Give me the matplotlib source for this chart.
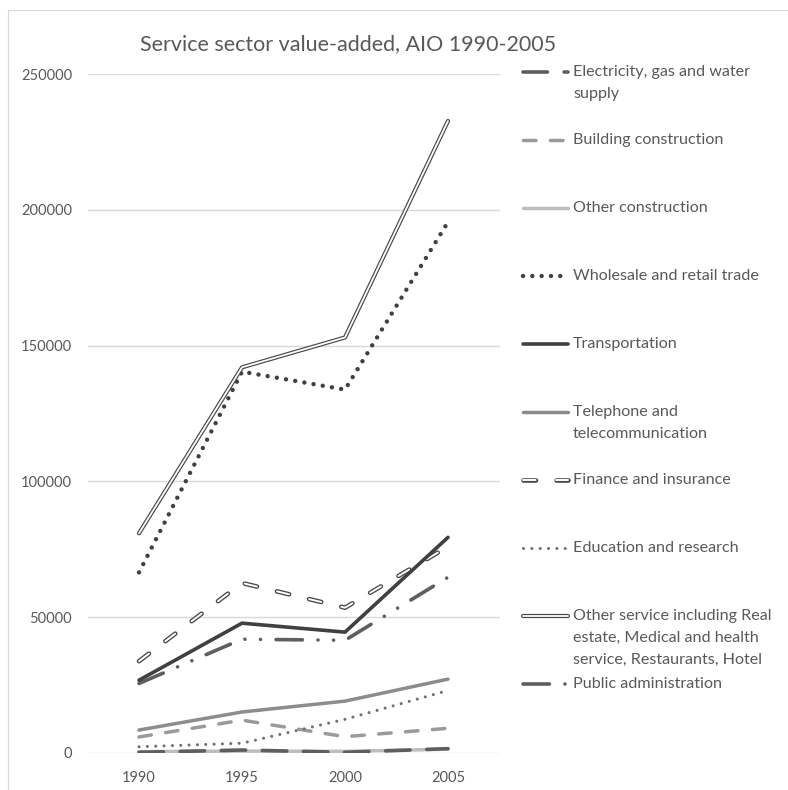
import matplotlib
matplotlib.use("Agg")
import matplotlib.pyplot as plt
from matplotlib.lines import Line2D
from matplotlib.patches import Rectangle
import matplotlib.patheffects as pe

plt.rcParams['font.family'] = ['Lato', 'DejaVu Sans']
plt.rcParams['lines.scale_dashes'] = False

years = ['1990', '1995', '2000', '2005']

electricity = [250, 1100, 250, 1600]
building_construction = [5900, 12100, 6000, 9100]
other_construction = [500, 700, 600, 1400]
wholesale_retail = [66500, 140400, 133800, 195500]
transportation = [26800, 47800, 44500, 79400]
telephone = [8450, 15100, 19100, 27200]
finance_insurance = [33800, 62600, 53500, 76000]
education_research = [2300, 3600, 12400, 23000]
other_service = [80900, 142000, 153000, 232700]
public_admin = [25600, 41900, 41500, 64700]

legend_labels = [
    "Electricity, gas and water\nsupply",
    "Building construction",
    "Other construction",
    "Wholesale and retail trade",
    "Transportation",
    "Telephone and\ntelecommunication",
    "Finance and insurance",
    "Education and research",
    "Other service including Real\nestate, Medical and health\nservice, Restaurants, Hotel",
    "Public administration",
]

W, H = 788, 790
TEXT = '#595959'
GRID = '#d9d9d9'

# line styles: colour, width (pt), dash pattern (pt), cap style, inner core width for double lines, z-order
styles = [
    dict(color='#5e5e5e', lw=2.6, dashes=(0, (17.6, 12.0)), cap='round', inner=None, z=3.2),
    dict(color='#9a9a9a', lw=2.5, dashes=(0, (9.0, 10.4)), cap='round', inner=None, z=3.1),
    dict(color='#bdbdbd', lw=2.5, dashes='-', cap='round', inner=None, z=3.0),
    dict(color='#404040', lw=3.2, dashes=(0, (0.01, 6.7)), cap='round', inner=None, z=3.3),
    dict(color='#404040', lw=2.6, dashes='-', cap='round', inner=None, z=3.4),
    dict(color='#8c8c8c', lw=2.5, dashes='-', cap='round', inner=None, z=3.35),
    dict(color='#474747', lw=3.3, dashes=(0, (9.0, 14.8)), cap='round', inner=1.4, z=3.36),
    dict(color='#6e6e6e', lw=2.2, dashes=(0, (0.01, 6.0)), cap='round', inner=None, z=3.37),
    dict(color='#474747', lw=3.0, dashes='-', cap='round', inner=1.3, z=3.5),
    dict(color='#5e5e5e', lw=2.6, dashes=(0, (19.0, 11.2, 0.01, 11.2, 0.01, 11.2)), cap='round', inner=None, z=3.38),
]

series = [electricity, building_construction, other_construction, wholesale_retail,
          transportation, telephone, finance_insurance, education_research,
          other_service, public_admin]

fig = plt.figure(figsize=(W / 100, H / 100), dpi=100)
fig.patch.set_facecolor('white')

# chart frame
fig.add_artist(Rectangle((8 / W, -0.05), 1.2, 1 - 10 / H + 0.05, transform=fig.transFigure,
                         fill=False, edgecolor=GRID, lw=0.8))

ax_left, ax_right = 87.5, 499.5
ax_top, ax_bottom = 74, 753
ax = fig.add_axes([ax_left / W, 1 - ax_bottom / H, (ax_right - ax_left) / W, (ax_bottom - ax_top) / H])

x = list(range(len(years)))


def style_line(line, st):
    line.set_color(st['color'])
    line.set_linewidth(st['lw'])
    line.set_linestyle(st['dashes'])
    line.set_dash_capstyle(st['cap'])
    line.set_solid_capstyle(st['cap'])
    line.set_solid_joinstyle('round')
    line.set_dash_joinstyle('round')
    if st['inner'] is not None:
        # double line: dark outline with white core
        line.set_linewidth(st['inner'])
        line.set_color('white')
        line.set_path_effects([pe.Stroke(linewidth=st['lw'], foreground=st['color']), pe.Normal()])


for vals, st in zip(series, styles):
    ln, = ax.plot(x, vals)
    style_line(ln, st)
    ln.set_zorder(st['z'])

ax.set_xlim(-0.5, 3.5)
ax.set_ylim(0, 250000)
ax.set_yticks(range(0, 250001, 50000))
ax.set_xticks(x)
ax.set_xticklabels(years)
ax.grid(axis='y', color=GRID, lw=1.0)
ax.set_axisbelow(True)
for s in ax.spines.values():
    s.set_visible(False)
ax.tick_params(axis='both', length=0, colors=TEXT, labelsize=10.5)
ax.tick_params(axis='y', pad=11)
ax.tick_params(axis='x', pad=13)

fig.text(140 / W, 1 - 44 / H, "Service sector value-added, AIO 1990-2005",
         ha='left', va='center', fontsize=15.5, color=TEXT)

# legend
leg_x0, leg_x1, txt_x = 523, 568, 573
for i, (lab, st) in enumerate(zip(legend_labels, styles)):
    y = 72 + 68.0 * i
    yy = 1 - y / H
    ln = Line2D([leg_x0 / W, leg_x1 / W], [yy, yy], transform=fig.transFigure)
    style_line(ln, st)
    fig.add_artist(ln)
    for k, part in enumerate(lab.split('\n')):
        fig.text(txt_x / W, 1 - (y + 21.8 * k) / H, part, ha='left', va='center',
                 fontsize=11.6, color=TEXT)

fig.savefig('out.png', dpi=100, facecolor='white')
